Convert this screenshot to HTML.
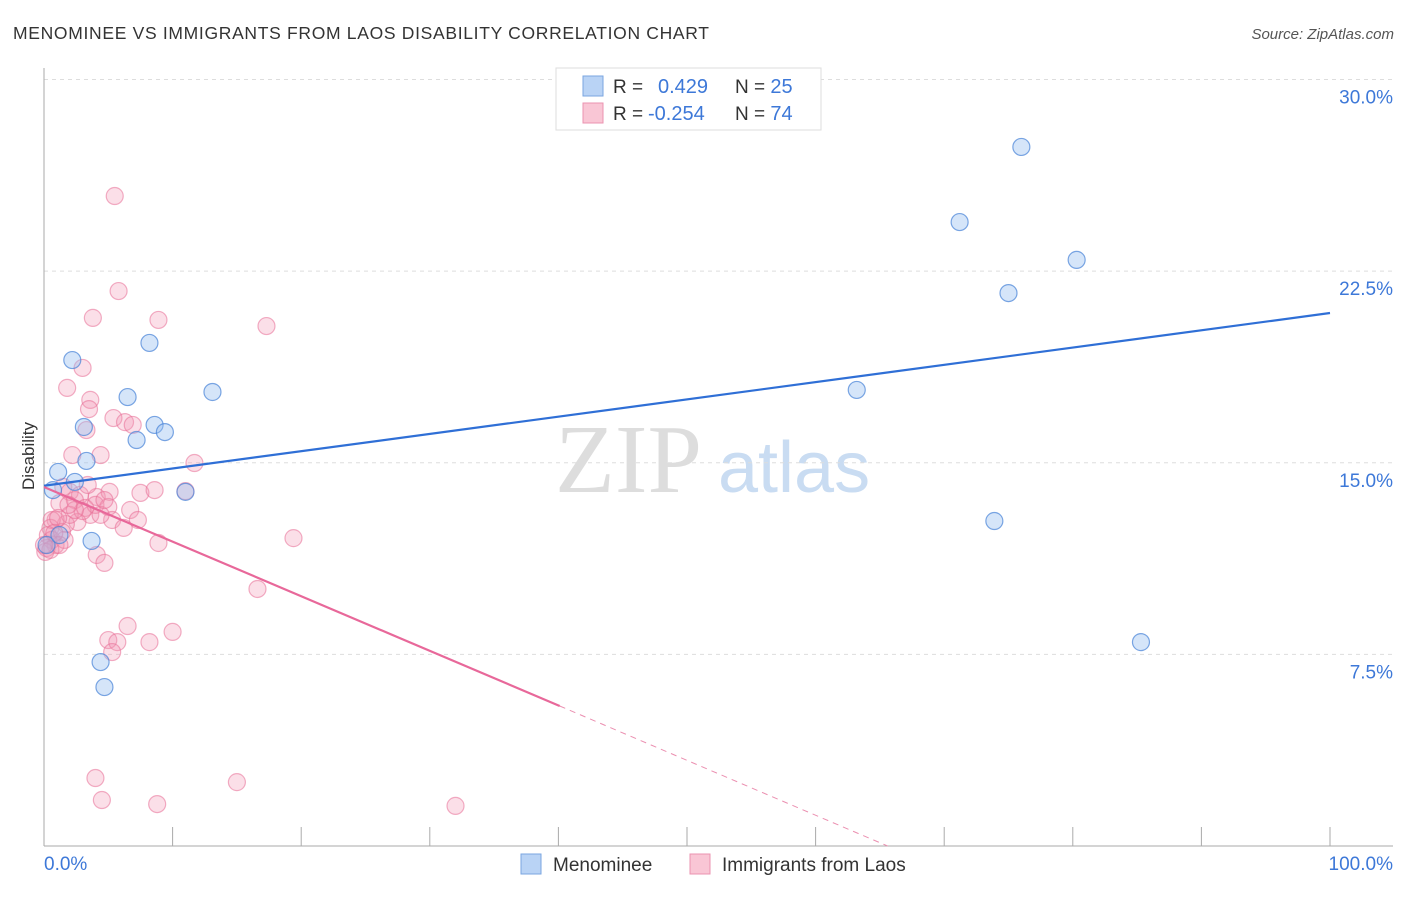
<!DOCTYPE html>
<html><head><meta charset="utf-8"><style>
body{margin:0;background:#fff;font-family:"Liberation Sans",sans-serif}
</style></head><body>
<svg id="c" width="1406" height="892" xmlns="http://www.w3.org/2000/svg">
<text x="13" y="39" font-size="17.5" fill="#333" textLength="696" lengthAdjust="spacing">MENOMINEE VS IMMIGRANTS FROM LAOS DISABILITY CORRELATION CHART</text>
<text x="1394" y="39" font-size="15" fill="#555" font-style="italic" text-anchor="end">Source: ZipAtlas.com</text>
<text x="555" y="492" font-size="98" fill="#ddd" font-family="Liberation Serif">ZIP</text>
<text x="718" y="492" font-size="72" fill="#c9dcf2">atlas</text>
<text transform="translate(34,456) rotate(-90)" font-size="17" fill="#333" text-anchor="middle">Disability</text>
<g id="grid"></g><g id="axes"></g><g id="marks"></g>
<g>
<rect x="556" y="68" width="265" height="62" fill="#fff" stroke="#ddd"/>
<rect x="583" y="76" width="20" height="20" fill="#b9d3f5" stroke="#7aa6e0"/>
<rect x="583" y="103" width="20" height="20" fill="#f9c6d5" stroke="#eb93b0"/>
<text x="613" y="93" font-size="19" fill="#333">R =</text>
<text x="658" y="93" font-size="20" fill="#3d78d8">0.429</text>
<text x="735" y="93" font-size="19" fill="#333">N = <tspan fill="#3d78d8" font-size="20">25</tspan></text>
<text x="613" y="120" font-size="19" fill="#333">R =</text>
<text x="648" y="120" font-size="20" fill="#3d78d8">-0.254</text>
<text x="735" y="120" font-size="19" fill="#333">N = <tspan fill="#3d78d8" font-size="20">74</tspan></text>
</g>
<g>
<rect x="521" y="854" width="20" height="20" fill="#b9d3f5" stroke="#7aa6e0"/>
<text x="553" y="871" font-size="19" fill="#333">Menominee</text>
<rect x="690" y="854" width="20" height="20" fill="#f9c6d5" stroke="#eb93b0"/>
<text x="722" y="871" font-size="19" fill="#333">Immigrants from Laos</text>
</g>
<text x="44" y="870" font-size="19" fill="#3d78d8">0.0%</text>
<text x="1393" y="870" font-size="19" fill="#3d78d8" text-anchor="end">100.0%</text>
</svg>
<script>
const yTicks=[7.5,15,22.5,30];
const yTickLabels=["7.5%","15.0%","22.5%","30.0%"];
const xTicks=[0,10,20,30,40,50,60,70,80,90,100];
const blueX=[76.0,71.2,80.3,75.0,63.2,73.9,85.3,2.2,8.2,6.5,13.1,8.6,9.4,7.2,3.1,3.3,1.1,0.7,2.4,11.0,3.7,4.4,4.7,0.2,1.2];
const blueY=[27.36,24.42,22.94,21.64,17.85,12.72,7.98,19.02,19.69,17.57,17.77,16.48,16.20,15.89,16.40,15.07,14.64,13.93,14.25,13.86,11.94,7.20,6.22,11.78,12.17];
const pinkX=[5.5,5.8,3.8,8.9,17.3,3.0,1.8,3.6,3.5,5.4,6.3,6.9,3.3,2.2,4.4,11.7,1.5,2.0,2.8,4.1,5.1,7.5,8.6,11.0,1.2,2.4,3.2,3.6,4.0,5.0,6.7,7.3,5.3,6.2,2.6,1.7,0.9,0.5,0.3,0.6,0.9,0.2,0.1,1.4,2.0,3.0,4.4,8.9,4.1,4.7,19.4,16.6,6.5,10.0,5.0,5.7,8.2,5.3,4.0,4.5,8.8,15.0,32.0,0.6,1.1,1.6,0.5,1.2,2.4,3.4,4.7,1.9,0.0,0.8];
const pinkY=[25.44,21.72,20.67,20.59,20.35,18.71,17.93,17.46,17.10,16.75,16.59,16.48,16.28,15.30,15.30,14.99,14.05,13.86,13.74,13.66,13.86,13.82,13.93,13.89,13.42,13.54,13.23,12.96,13.35,13.27,13.15,12.76,12.76,12.45,12.68,12.60,12.76,12.45,12.17,11.98,11.78,11.66,11.51,12.29,12.96,13.11,12.96,11.86,11.39,11.08,12.05,10.06,8.61,8.38,8.06,7.98,7.98,7.59,2.66,1.80,1.64,2.50,1.57,12.76,12.84,11.98,11.59,11.78,13.15,14.13,13.54,13.35,11.78,12.25];
const blueTrend=[[0,14.1],[100,20.86]];
const pinkTrendSolid=[[0,14.05],[40.1,5.48]];
const pinkTrendDash=[[40.1,5.48],[65.6,0]];
const X=v=>44+v*12.86, Y=v=>846-v*25.55;
const NS="http://www.w3.org/2000/svg";
function mk(tag,parent,attrs){const e=document.createElementNS(NS,tag);for(const k in attrs)e.setAttribute(k,attrs[k]);document.getElementById(parent).appendChild(e);return e;}
yTicks.forEach((t,i)=>{
 const l=mk('line','grid',{x1:44,x2:1393,y1:Y(t),y2:Y(t),stroke:'#ddd','stroke-dasharray':'4,4'});
 
 
 const tx=mk('text','grid',{x:1393,y:Y(t)+24,'font-size':19,fill:'#3d78d8','text-anchor':'end'});
 tx.textContent=yTickLabels[i];
 
 
});
let a=mk('line','axes',{x1:44,x2:44,y1:68,y2:846,stroke:'#aaa'});


a=mk('line','axes',{x1:44,x2:1393,y1:846,y2:846,stroke:'#aaa'});


xTicks.forEach(t=>{const l=mk('line','axes',{x1:X(t),x2:X(t),y1:827,y2:846,stroke:'#aaa'});
 
 });
pinkX.forEach((x,i)=>{const c=mk('circle','marks',{cx:X(x),cy:Y(pinkY[i]),r:8.5,fill:'rgba(242,150,178,0.3)',stroke:'rgba(232,110,150,0.55)','stroke-width':1.2});
 
 });
blueX.forEach((x,i)=>{const c=mk('circle','marks',{cx:X(x),cy:Y(blueY[i]),r:8.5,fill:'rgba(150,190,240,0.4)',stroke:'rgba(70,130,215,0.7)','stroke-width':1.2});
 
 });
let t=mk('line','marks',{x1:X(blueTrend[0][0]),y1:Y(blueTrend[0][1]),x2:X(blueTrend[1][0]),y2:Y(blueTrend[1][1]),stroke:'#2f6fd6','stroke-width':2.2});


t=mk('line','marks',{x1:X(pinkTrendSolid[0][0]),y1:Y(pinkTrendSolid[0][1]),x2:X(pinkTrendSolid[1][0]),y2:Y(pinkTrendSolid[1][1]),stroke:'#e8689a','stroke-width':2.2});


t=mk('line','marks',{x1:X(pinkTrendDash[0][0]),y1:Y(pinkTrendDash[0][1]),x2:X(pinkTrendDash[1][0]),y2:Y(pinkTrendDash[1][1]),stroke:'#eb8fb0','stroke-width':1,'stroke-dasharray':'6,5'});


</script>
</body></html>
